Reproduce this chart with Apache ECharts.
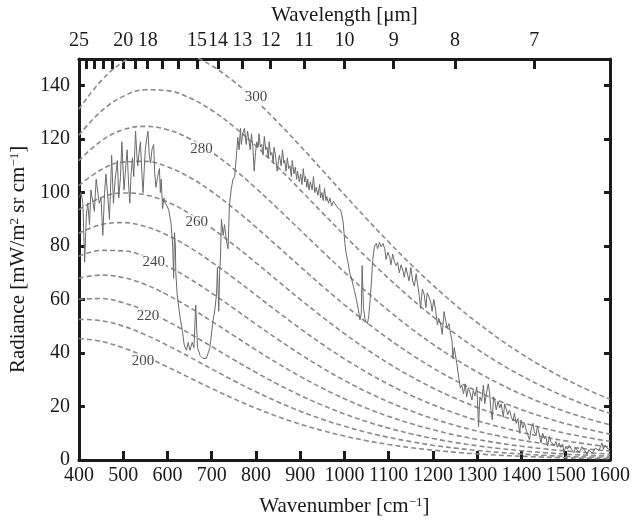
<!DOCTYPE html>
<html>
<head>
<meta charset="utf-8">
<script src="https://cdn.jsdelivr.net/npm/echarts@6.0.0/dist/echarts.min.js"></script>
<style>
html, body { margin: 0; padding: 0; background: #fff; }
#chart { width: 633px; height: 522px; }
</style>
</head>
<body>
<div id="chart"></div>
<script>
// wavenumber grid of the blackbody curves [cm-1]
const wavenumbers = [400, 450, 500, 550, 600, 650, 700, 750, 800, 850, 900, 950, 1000,
    1050, 1100, 1150, 1200, 1250, 1300, 1350, 1400, 1450, 1500, 1550, 1600];
const temperatures = [200, 210, 220, 230, 240, 250, 260, 270, 280, 290, 300];

// radiance of the dashed curves [mW/m2 sr cm-1]
const planck200 = [45.45, 44.37, 41.95, 38.64, 34.81, 30.76, 26.74, 22.90, 19.37, 16.20, 13.41, 11.00, 8.95, 7.23, 5.80, 4.63, 3.67, 2.89, 2.27, 1.78, 1.38, 1.07, 0.83, 0.64, 0.49];
const planck210 = [52.59, 52.12, 50.06, 46.84, 42.88, 38.52, 34.04, 29.65, 25.50, 21.69, 18.27, 15.24, 12.62, 10.36, 8.46, 6.86, 5.53, 4.44, 3.55, 2.82, 2.23, 1.76, 1.38, 1.08, 0.85];
const planck220 = [60.11, 60.39, 58.82, 55.84, 51.87, 47.29, 42.42, 37.51, 32.76, 28.29, 24.19, 20.50, 17.23, 14.38, 11.92, 9.82, 8.04, 6.55, 5.32, 4.29, 3.45, 2.77, 2.21, 1.76, 1.39];
const planck230 = [68.00, 69.16, 68.22, 65.61, 61.75, 57.05, 51.88, 46.51, 41.18, 36.06, 31.27, 26.87, 22.91, 19.39, 16.30, 13.62, 11.31, 9.35, 7.69, 6.30, 5.14, 4.18, 3.38, 2.73, 2.20];
const planck240 = [76.22, 78.39, 78.22, 76.11, 72.50, 67.81, 62.42, 56.67, 50.81, 45.06, 39.58, 34.45, 29.75, 25.50, 21.72, 18.38, 15.47, 12.96, 10.80, 8.96, 7.40, 6.10, 5.00, 4.09, 3.33];
const planck250 = [84.75, 88.05, 88.77, 87.31, 84.08, 79.52, 74.03, 67.98, 61.67, 55.33, 49.16, 43.30, 37.83, 32.82, 28.28, 24.23, 20.64, 17.49, 14.75, 12.39, 10.36, 8.63, 7.16, 5.93, 4.89];
const planck260 = [93.56, 98.10, 99.86, 99.18, 96.47, 92.17, 86.71, 80.45, 73.76, 66.89, 60.08, 53.49, 47.25, 41.43, 36.10, 31.26, 26.92, 23.07, 19.67, 16.70, 14.12, 11.90, 9.99, 8.36, 6.97];
const planck270 = [102.63, 108.53, 111.44, 111.68, 109.63, 105.73, 100.41, 94.07, 87.09, 79.76, 72.35, 65.06, 58.05, 51.42, 45.25, 39.59, 34.44, 29.81, 25.68, 22.03, 18.82, 16.02, 13.58, 11.48, 9.67];
const planck280 = [111.94, 119.30, 123.49, 124.78, 123.53, 120.17, 115.12, 108.82, 101.65, 93.94, 86.00, 78.05, 70.29, 62.85, 55.83, 49.30, 43.30, 37.83, 32.90, 28.49, 24.57, 21.11, 18.07, 15.42, 13.12];
const planck290 = [121.47, 130.39, 135.98, 138.45, 138.13, 135.44, 130.81, 124.67, 117.42, 109.44, 101.04, 92.49, 84.01, 75.77, 67.89, 60.48, 53.58, 47.23, 41.44, 36.20, 31.49, 27.30, 23.58, 20.30, 17.42];
const planck300 = [131.20, 141.78, 148.87, 152.65, 153.40, 151.52, 147.45, 141.59, 134.40, 126.24, 117.47, 108.39, 99.24, 90.23, 81.51, 73.20, 65.38, 58.10, 51.39, 45.26, 39.71, 34.70, 30.22, 26.23, 22.70];
const planckCurves = [planck200, planck210, planck220, planck230, planck240, planck250,
    planck260, planck270, planck280, planck290, planck300];

const specNu = [400, 405, 409, 413, 417, 420, 424, 427, 431, 435, 439, 442, 446, 450, 454, 458, 461, 465, 469, 472,
    474, 478, 482, 487, 490, 494, 497, 500, 502, 506, 509, 512, 515, 518, 521, 524, 528, 531, 533, 536,
    539, 542, 545, 548, 550, 553, 556, 559, 562, 565, 569, 571, 574, 578, 582, 584, 586, 589, 592, 595,
    599, 603, 608, 612, 614, 616, 618, 619, 622, 625, 629, 634, 638, 643, 647, 651, 656, 660, 664, 668,
    674, 680, 688, 696, 703, 707, 711, 713, 716, 718, 720, 722, 726, 729, 733, 737, 740, 744, 748, 752,
    756, 759, 762, 765, 767, 770, 774, 778, 781, 783, 787, 790, 793, 796, 799, 802, 805, 807, 810, 813,
    816, 819, 822, 825, 828, 830, 833, 836, 839, 841, 845, 848, 851, 853, 857, 860, 863, 865, 868, 871,
    874, 877, 880, 882, 886, 889, 892, 894, 898, 901, 904, 907, 910, 912, 915, 917, 920, 923, 927, 930,
    933, 936, 940, 944, 946, 949, 952, 955, 958, 960, 964, 967, 971, 975, 979, 982, 986, 991, 994, 997,
    1001, 1004, 1008, 1012, 1016, 1020, 1023, 1027, 1031, 1035, 1038, 1040, 1043, 1046, 1048, 1052, 1055, 1057, 1061, 1064,
    1068, 1072, 1075, 1079, 1083, 1087, 1091, 1094, 1098, 1102, 1105, 1109, 1113, 1117, 1120, 1124, 1128, 1132, 1135, 1139,
    1143, 1146, 1150, 1154, 1158, 1162, 1165, 1169, 1172, 1176, 1180, 1184, 1187, 1191, 1195, 1198, 1202, 1206, 1210, 1213,
    1217, 1221, 1225, 1228, 1232, 1236, 1240, 1243, 1245, 1248, 1250, 1254, 1258, 1262, 1265, 1269, 1273, 1276, 1280, 1284,
    1288, 1291, 1295, 1299, 1303, 1306, 1310, 1314, 1317, 1321, 1325, 1328, 1331, 1334, 1337, 1340, 1343, 1347, 1351, 1354,
    1359, 1362, 1366, 1369, 1373, 1377, 1381, 1384, 1388, 1392, 1396, 1399, 1403, 1407, 1411, 1414, 1418, 1422, 1426, 1429,
    1433, 1436, 1441, 1444, 1448, 1452, 1455, 1459, 1463, 1466, 1470, 1474, 1478, 1481, 1485, 1489, 1493, 1496, 1500, 1504,
    1508, 1511, 1515, 1518, 1522, 1526, 1530, 1533, 1537, 1541, 1545, 1548, 1552, 1556, 1560, 1563, 1567, 1571, 1575, 1578,
    1582, 1585, 1589, 1593, 1596, 1600];
const specRad = [98, 100, 96, 74, 92, 96, 88, 101, 97, 93, 105, 101, 96, 98, 84, 100, 107, 99, 90, 104,
    114, 96, 105, 112, 98, 106, 119, 108, 101, 110, 116, 104, 96, 107, 113, 106, 123, 114, 110, 115,
    119, 108, 100, 110, 116, 120, 123, 114, 111, 116, 118, 108, 102, 106, 109, 100, 105, 94, 98, 96,
    95, 93.6, 88.7, 80, 68, 85, 80, 70, 62, 58, 53, 48, 43, 41, 44, 41, 44, 42, 58, 42,
    39, 38, 38, 42, 52, 56, 62, 72, 55.6, 70, 76, 90, 84, 88, 82.5, 79, 95, 101, 105, 106,
    114, 120.6, 116, 124, 118, 122, 124, 118, 123, 121, 116, 122, 117, 108, 115, 119, 117, 122, 117, 118,
    114, 121, 116, 117, 113, 119, 114, 115, 111, 117, 113, 108, 112, 114, 110, 116, 111, 112, 108, 113,
    109, 110, 106, 112, 107, 109.5, 105, 108, 104, 107, 103, 109, 104, 106, 102, 105, 101, 104, 101, 106,
    100, 102, 99, 103, 98, 100, 97, 101.6, 97, 98.5, 96, 98, 95, 96.7, 96, 95, 94, 93.6, 91.7, 89,
    81, 77, 74, 70, 67.8, 65, 63, 60, 56.7, 52.4, 55, 72.7, 57, 53, 52, 51, 54, 58, 66.6, 75,
    80, 81, 79, 81.4, 79.7, 81, 79, 75, 77.7, 76, 73, 77, 74, 72.7, 74, 70, 73, 71, 68.4, 72,
    69, 67, 72, 67, 65, 69.6, 66, 61.6, 56.7, 64, 62, 57, 62.5, 61, 59, 55.6, 60, 56, 50.6, 53,
    51, 47, 55.5, 56, 49.4, 51, 47, 44.5, 38, 42, 40, 36, 31, 27, 28, 24.8, 28.5, 23.6, 27, 25,
    22.4, 26, 24, 27.3, 12.5, 23.6, 22, 28, 21, 25, 28.5, 25, 18.7, 15, 23.6, 22, 18.7, 22, 19.5, 21,
    16, 21, 18.7, 17, 18.7, 16, 14.6, 17.5, 13.7, 15.5, 10, 15, 12, 13.7, 11, 11.5, 7.6, 11.5, 13.7, 10.5,
    9.5, 12.5, 9, 6.4, 10, 8, 9, 5.2, 8.8, 7, 7.6, 5.5, 6.9, 4.8, 6.4, 4.7, 6, 2.7, 5, 4,
    5.5, 5.2, 3.5, 2.7, 4.5, 4.3, 2.8, 3.5, 5, 4.3, 3, 2.1, 3.8, 4, 2.5, 3, 4.5, 5.2, 3.5, 3.5,
    6.4, 4, 5.5, 6, 4, 4.5];

// temperature labels on the curves
const labelTemps = ['200', '220', '240', '260', '280', '300'];
const labelNu = [545, 556, 569, 666, 677, 800];
const labelRad = [37, 54, 73.9, 88.9, 116.3, 135.6];

// axis ticks
const xTicks = [400, 500, 600, 700, 800, 900, 1000, 1100, 1200, 1300, 1400, 1500, 1600];
const yTicks = [0, 20, 40, 60, 80, 100, 120, 140];
const topTickWavelengths = [25, 24, 23, 22, 21, 20, 19, 18, 17, 16, 15, 14, 13, 12, 11, 10, 9, 8, 7];
const topLabelWavelengths = [25, 20, 18, 15, 14, 13, 12, 11, 10, 9, 8, 7];
const topTicks = topTickWavelengths.map(l => 10000 / l);
const topLabels = topLabelWavelengths.map(l => 10000 / l);

const serif = 'Liberation Serif';
const ink = '#1a1a1a';

const chart = echarts.init(document.getElementById('chart'));

const planckSeries = planckCurves.map((vals, i) => ({
    name: temperatures[i] + ' K',
    type: 'line',
    data: wavenumbers.map((w, j) => [w, vals[j]]),
    showSymbol: false,
    smooth: 0.4,
    silent: true,
    z: 2,
    lineStyle: { color: '#8a8a8a', width: 1.6, type: [5, 3] }
}));

const option = {
    animation: false,
    backgroundColor: '#fff',
    grid: { left: 76, right: 20, top: 57, bottom: 58 },
    xAxis: [
        {
            type: 'value',
            position: 'bottom',
            min: 400,
            max: 1600,
            name: 'Wavenumber [cm{sup|−1}]',
            nameLocation: 'middle',
            nameGap: 36,
            nameTextStyle: {
                fontFamily: serif, fontSize: 21, color: ink,
                rich: { sup: { fontFamily: serif, fontSize: 13, color: ink, verticalAlign: 'top' } }
            },
            axisLine: { onZero: false, lineStyle: { color: ink, width: 3 } },
            axisTick: { inside: true, length: 9, lineStyle: { color: ink, width: 3 }, customValues: xTicks },
            axisLabel: {
                margin: 6, fontFamily: serif, fontSize: 20, color: ink,
                customValues: xTicks,
                formatter: v => String(v)
            },
            splitLine: { show: false }
        },
        {
            // wavelength axis: ticks at 10000/lambda
            type: 'value',
            position: 'top',
            min: 400,
            max: 1600,
            name: 'Wavelength [μm]',
            nameLocation: 'middle',
            nameGap: 29,
            nameTextStyle: { fontFamily: serif, fontSize: 21, color: ink },
            axisLine: { onZero: false, lineStyle: { color: ink, width: 3 } },
            axisTick: {
                inside: true, length: 10, lineStyle: { color: ink, width: 3 },
                customValues: topTicks
            },
            axisLabel: {
                margin: 8, fontFamily: serif, fontSize: 20, color: ink,
                customValues: topLabels,
                formatter: v => String(Math.round(10000 / v))
            },
            splitLine: { show: false }
        }
    ],
    yAxis: [
        {
            type: 'value',
            position: 'left',
            min: 0,
            max: 150,
            name: 'Radiance [mW/m{sup|2} sr cm{sup|−1}]',
            nameLocation: 'middle',
            nameGap: 39,
            nameTextStyle: {
                fontFamily: serif, fontSize: 21, color: ink,
                rich: { sup: { fontFamily: serif, fontSize: 13, color: ink, verticalAlign: 'top' } }
            },
            axisLine: { onZero: false, lineStyle: { color: ink, width: 3 } },
            axisTick: { inside: true, length: 6, lineStyle: { color: ink, width: 3 }, customValues: yTicks },
            axisLabel: { margin: 9, fontFamily: serif, fontSize: 20, color: ink, customValues: yTicks },
            splitLine: { show: false }
        },
        {
            type: 'value',
            position: 'right',
            min: 0,
            max: 150,
            axisLine: { onZero: false, lineStyle: { color: ink, width: 3 } },
            axisTick: { inside: true, length: 6, lineStyle: { color: ink, width: 3 }, customValues: yTicks },
            axisLabel: { show: false, customValues: yTicks },
            splitLine: { show: false }
        }
    ],
    series: planckSeries.concat([
        {
            name: 'spectrum',
            type: 'line',
            data: specNu.map((w, i) => [w, specRad[i]]),
            showSymbol: false,
            silent: true,
            z: 3,
            lineStyle: { color: '#6a6a6a', width: 1 }
        },
        {
            name: 'labels',
            type: 'scatter',
            data: labelNu.map((w, i) => [w, labelRad[i], labelTemps[i]]),
            symbolSize: 0,
            silent: true,
            z: 4,
            label: {
                show: true,
                position: 'inside',
                formatter: p => p.value[2],
                fontFamily: serif,
                fontSize: 15,
                color: ink,
                backgroundColor: '#fff',
                padding: [0, 1]
            }
        }
    ])
};

chart.setOption(option);
</script>
</body>
</html>
